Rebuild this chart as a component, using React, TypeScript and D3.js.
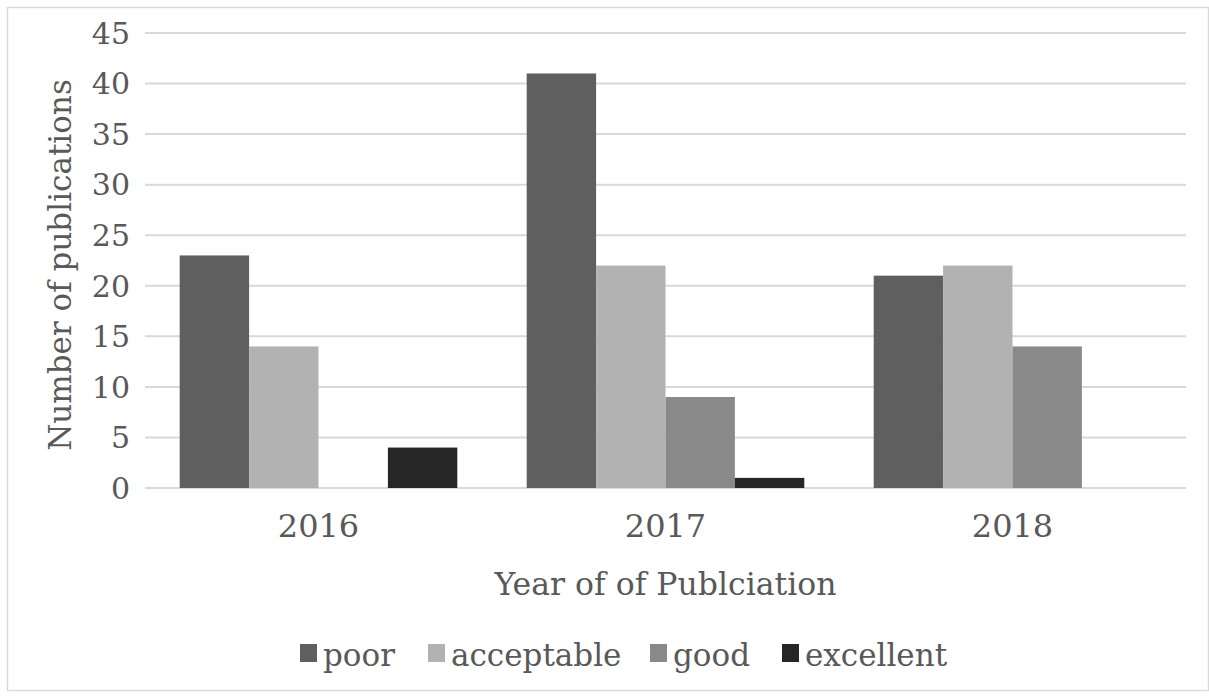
import React from "react";
import * as d3 from "d3";

const years = ["2016", "2017", "2018"];
const seriesNames = ["poor", "acceptable", "good", "excellent"];
const poor = [23, 41, 21];
const acceptable = [14, 22, 22];
const good = [0, 9, 14];
const excellent = [4, 1, 0];
const yTicks = [0, 5, 10, 15, 20, 25, 30, 35, 40, 45];
const colors = ["#5f5f5f", "#b2b2b2", "#898989", "#262626"];

const W = 1209;
const H = 697;
const FONT = "'DejaVu Serif', serif";
const TEXT = "#595959";

export default function App() {
  const values = [poor, acceptable, good, excellent];
  const x0 = d3.scaleBand<string>().domain(years).range([145, 1186]).paddingInner(0.2).paddingOuter(0.1);
  const x1 = d3.scaleBand<string>().domain(seriesNames).range([0, x0.bandwidth()]).padding(0);
  const y = d3.scaleLinear().domain([0, 45]).range([488, 33]);

  const legendX = [300, 428, 650, 782];

  return (
    <svg width={W} height={H} style={{ position: "absolute", left: 0, top: 0, background: "#fff" }} fontFamily={FONT}>
      <rect x={7.5} y={7.5} width={W - 8} height={H - 14} fill="#fff" stroke="#d9d9d9" strokeWidth={1.5} />
      {yTicks.map((t) => (
        <g key={t}>
          <line x1={145} x2={1186} y1={y(t)} y2={y(t)} stroke="#d9d9d9" strokeWidth={2} />
          <text x={130} y={y(t)} dy="0.36em" textAnchor="end" fontSize={30} fill={TEXT}>
            {t}
          </text>
        </g>
      ))}
      {years.map((yr, i) => (
        <g key={yr} transform={`translate(${x0(yr)},0)`}>
          {seriesNames.map((s, j) => {
            const v = values[j][i];
            if (!v) return null;
            return (
              <rect key={s} x={x1(s)} y={y(v)} width={x1.bandwidth()} height={y(0) - y(v)} fill={colors[j]} />
            );
          })}
          <text x={x0.bandwidth() / 2} y={537} textAnchor="middle" fontSize={32} fill={TEXT}>
            {yr}
          </text>
        </g>
      ))}
      <text x={665.5} y={595} textAnchor="middle" fontSize={31.5} fill={TEXT}>
        Year of of Publciation
      </text>
      <text transform={`translate(71,265) rotate(-90)`} textAnchor="middle" fontSize={31} fill={TEXT}>
        Number of publications
      </text>
      {seriesNames.map((s, j) => (
        <g key={s} transform={`translate(${legendX[j]},0)`}>
          <rect x={0} y={644} width={17} height={18} fill={colors[j]} />
          <text x={23} y={666} fontSize={31} fill={TEXT}>
            {s}
          </text>
        </g>
      ))}
    </svg>
  );
}
